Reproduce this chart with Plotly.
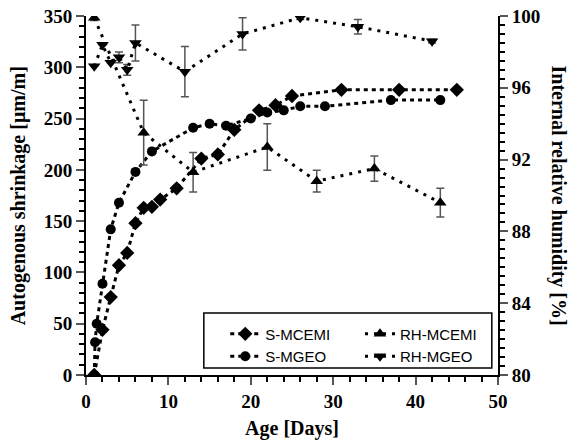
import plotly.graph_objects as go

# Autogenous shrinkage (left axis, µm/m)
age_s_mcemi = [1, 2, 3, 4, 5, 6, 7, 8, 9, 11, 14, 16, 18, 21, 23, 25, 31, 38, 45]
s_mcemi = [0, 44, 76, 107, 119, 148, 163, 164, 171, 182, 211, 215, 239, 258, 263, 272, 278, 278, 278]

age_s_mgeo = [1, 1.1, 1.3, 2, 3, 4, 6, 8, 13, 15, 17, 20, 22, 24, 26, 29, 37, 43]
s_mgeo = [0, 32, 50, 89, 142, 168, 198, 218, 241, 245, 243, 250, 256, 258, 262, 262, 268, 268]

# Internal relative humidity (right axis, %)
age_rh_mcemi = [1, 7, 13, 22, 28, 35, 43]
rh_mcemi = [99.9, 93.5, 91.3, 92.7, 90.8, 91.5, 89.6]
rh_mcemi_err = [0.15, 1.8, 1.1, 1.3, 0.6, 0.7, 0.8]

age_rh_mgeo = [1, 2, 3, 4, 5, 6, 12, 19, 26, 33, 42]
rh_mgeo = [97.2, 98.4, 97.4, 97.7, 97.0, 98.5, 96.9, 99.0, 99.9, 99.4, 98.6]
rh_mgeo_err = [0, 0, 0, 0.3, 0.3, 1.0, 1.4, 0.9, 0.1, 0.4, 0.1]

SERIF = "Liberation Serif"
SANS = "Liberation Sans"
S_DASH = "4px,4px"
RH_DASH = "3px,6px"

fig = go.Figure()

fig.add_trace(go.Scatter(
    x=age_s_mcemi, y=s_mcemi, name="S-MCEMI", mode="lines+markers",
    line=dict(color="black", width=3, dash=S_DASH),
    marker=dict(symbol="diamond", size=11, color="black"),
    legend="legend"))
fig.add_trace(go.Scatter(
    x=age_s_mgeo, y=s_mgeo, name="S-MGEO", mode="lines+markers",
    line=dict(color="black", width=3, dash=S_DASH),
    marker=dict(symbol="circle", size=10, color="black"),
    legend="legend"))
fig.add_trace(go.Scatter(
    x=age_rh_mcemi, y=rh_mcemi, name="RH-MCEMI", mode="lines+markers",
    yaxis="y2",
    line=dict(color="black", width=3, dash=RH_DASH),
    marker=dict(symbol="triangle-up", size=11, color="black"),
    error_y=dict(type="data", array=rh_mcemi_err, color="#555555", thickness=1.5, width=4),
    legend="legend2"))
fig.add_trace(go.Scatter(
    x=age_rh_mgeo, y=rh_mgeo, name="RH-MGEO", mode="lines+markers",
    yaxis="y2",
    line=dict(color="black", width=3, dash=RH_DASH),
    marker=dict(symbol="triangle-down", size=11, color="black"),
    error_y=dict(type="data", array=rh_mgeo_err, color="#555555", thickness=1.5, width=4),
    legend="legend2"))

tick_font = dict(family=SERIF, size=19, color="black", weight="bold")
title_font = dict(family=SERIF, size=20, color="black", weight="bold")

axis_common = dict(
    showline=True, linecolor="black", linewidth=2,
    showgrid=False, zeroline=False, automargin=False,
    ticks="outside", ticklen=8, tickwidth=2, tickcolor="#555555",
    tickfont=tick_font,
)

legend_style = dict(
    yanchor="top", xanchor="left", y=0.16,
    bgcolor="rgba(0,0,0,0)", borderwidth=0,
    font=dict(family=SANS, size=15, color="black"),
    tracegroupgap=0,
)

fig.update_layout(
    width=573, height=441,
    margin=dict(l=86, r=75, t=16, b=66, autoexpand=False),
    paper_bgcolor="white", plot_bgcolor="white",
    xaxis=dict(
        range=[0, 50], dtick=10, tick0=0,
        title=dict(text="Age [Days]", font=title_font, standoff=10),
        minor=dict(dtick=2, ticks="outside", ticklen=5, tickwidth=1.5, tickcolor="black"),
        **axis_common),
    yaxis=dict(
        range=[0, 350], dtick=50, tick0=0,
        minor=dict(dtick=10, ticks="outside", ticklen=5, tickwidth=1.5, tickcolor="black"),
        **axis_common),
    yaxis2=dict(
        range=[80, 100], dtick=4, tick0=80,
        overlaying="y", side="right", anchor="x",
        minor=dict(dtick=0.5, ticks="outside", ticklen=5, tickwidth=1.5, tickcolor="black"),
        **axis_common),
    legend=dict(x=0.338, **legend_style),
    legend2=dict(x=0.665, **legend_style),
    shapes=[dict(
        type="rect", xref="paper", yref="paper",
        x0=0.286, x1=0.985, y0=0.0195, y1=0.173,
        line=dict(color="black", width=1.5), fillcolor="white", layer="below")],
    annotations=[
        dict(text="Autogenous shrinkage [\u03bcm/m]", textangle=-90,
             xref="paper", yref="paper", x=-0.163, y=0.5,
             xanchor="center", yanchor="middle", showarrow=False,
             font=title_font),
        dict(text="Internal relative humidity [%]", textangle=90,
             xref="paper", yref="paper", x=1.148, y=0.5,
             xanchor="center", yanchor="middle", showarrow=False,
             font=title_font),
    ],
)

fig.write_html("out.html")
